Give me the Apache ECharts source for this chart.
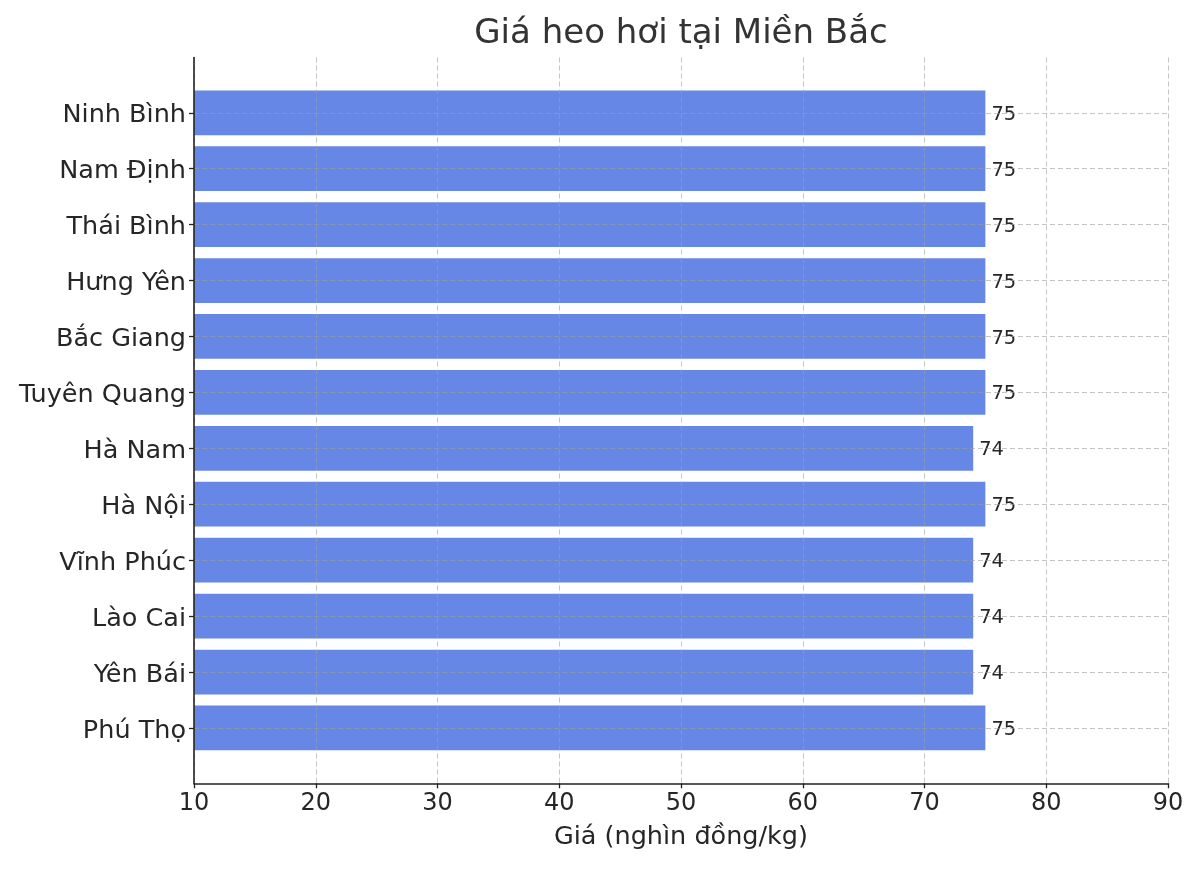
<!DOCTYPE html>
<html>
<head>
<meta charset="utf-8">
<script src="https://cdn.jsdelivr.net/npm/echarts@6/dist/echarts.min.js"></script>
<style>
html,body{margin:0;padding:0;background:#ffffff;}
#chart{width:1200px;height:869px;}
</style>
</head>
<body>
<div id="chart"></div>
<script>
// Data (top to bottom as shown)
const provinces = ['Ninh Bình','Nam Định','Thái Bình','Hưng Yên','Bắc Giang','Tuyên Quang','Hà Nam','Hà Nội','Vĩnh Phúc','Lào Cai','Yên Bái','Phú Thọ'];
const prices = [75,75,75,75,75,75,74,75,74,74,74,75];
const xTickValues = [10,20,30,40,50,60,70,80,90];

const FONT = 'DejaVu Sans';
const TEXT = '#262626';
const AXIS = '#222222';
const GRIDLINE = {type:[5,3], color:'rgba(160,160,160,0.6)', width:1};

const xMin = xTickValues[0];
const xMax = xTickValues[xTickValues.length-1];
const xStep = xTickValues[1]-xTickValues[0];

const chart = echarts.init(document.getElementById('chart'), null, {renderer:'canvas'});
chart.setOption({
  backgroundColor:'#ffffff',
  animation:false,
  textStyle:{fontFamily:FONT},
  title:{
    text:'Giá heo hơi tại Miền Bắc',
    left:681, top:17, padding:0, textAlign:'center',
    textStyle:{fontFamily:FONT, fontSize:34, fontWeight:'normal', color:'#333333'}
  },
  grid:[
    {left:194, right:32, top:84.8, bottom:113.1},
    {left:194, right:32, top:57.5, bottom:85.7}
  ],
  xAxis:[
    {gridIndex:0, type:'value', min:xMin, max:xMax, interval:xStep, show:false},
    {gridIndex:1, type:'value', min:xMin, max:xMax, interval:xStep, z:3,
      axisLine:{show:true, onZero:false, lineStyle:{color:AXIS, width:1.6}},
      axisTick:{show:true, length:5, lineStyle:{color:AXIS, width:1.3}},
      axisLabel:{fontFamily:FONT, fontSize:24, color:TEXT, margin:8},
      splitLine:{show:true, lineStyle:GRIDLINE},
      name:'Giá (nghìn đồng/kg)', nameLocation:'middle', nameGap:41,
      nameTextStyle:{fontFamily:FONT, fontSize:25.5, color:TEXT}
    }
  ],
  yAxis:[
    {gridIndex:0, type:'category', data:provinces, inverse:true, z:3,
      axisLine:{show:false, onZero:false},
      axisTick:{show:true, alignWithLabel:true, length:5, lineStyle:{color:AXIS, width:1.3}},
      axisLabel:{
        fontFamily:FONT, fontSize:25.5, color:TEXT, margin:8,
        formatter:function(v){ return '{l|' + v + '}'; },
        rich:{l:{fontFamily:FONT, fontSize:25.5, color:TEXT, padding:[6,0,0,0]}}
      },
      splitLine:{show:true, alignWithLabel:true, lineStyle:GRIDLINE}
    },
    {gridIndex:1, type:'value', min:0, max:1, z:3,
      axisLine:{show:true, onZero:false, lineStyle:{color:AXIS, width:1.6}},
      axisTick:{show:false}, axisLabel:{show:false}, splitLine:{show:false}
    }
  ],
  series:[{
    type:'bar',
    xAxisIndex:0, yAxisIndex:0,
    data:prices,
    barWidth:'80%',
    itemStyle:{color:'#6787e7'},
    label:{show:true, position:'right', distance:6, offset:[0,2], fontFamily:FONT, fontSize:19.5, color:TEXT, formatter:'{c}'}
  }]
});
</script>
</body>
</html>
